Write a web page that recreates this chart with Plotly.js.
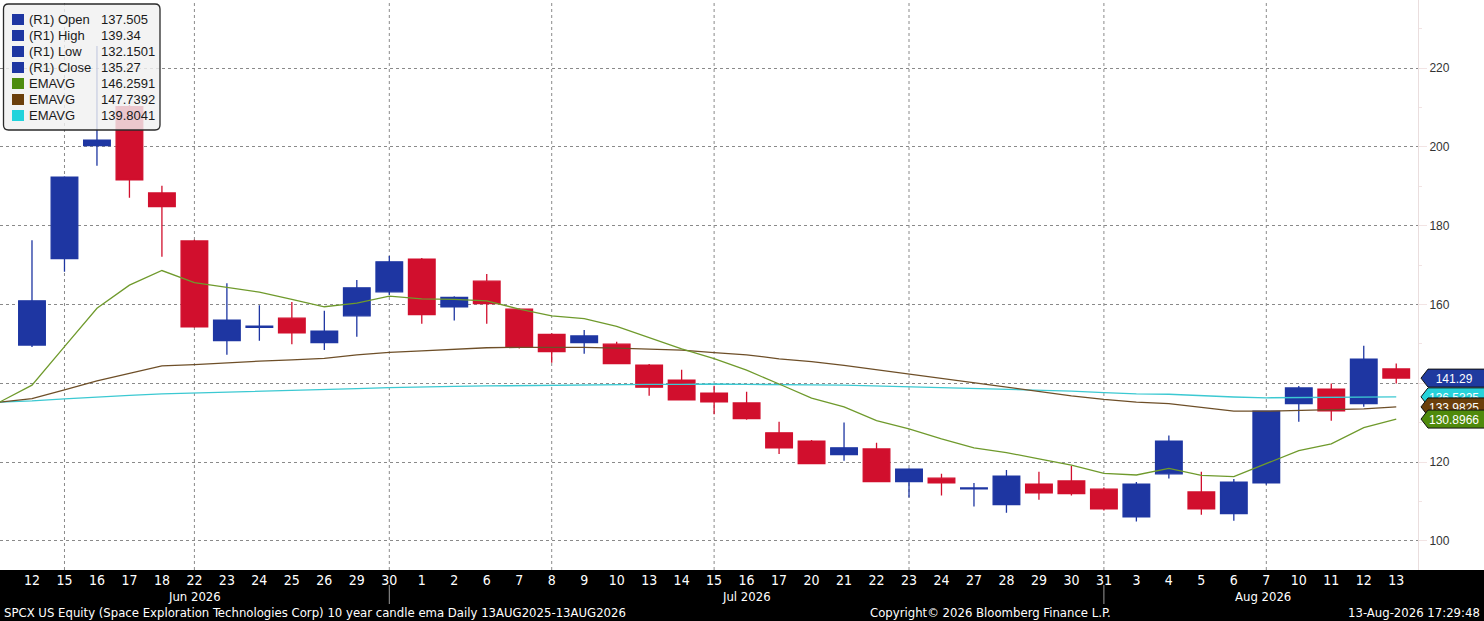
<!DOCTYPE html>
<html><head><meta charset="utf-8">
<script src="https://cdn.plot.ly/plotly-3.0.1.min.js"></script>
<style>html,body{margin:0;padding:0;background:#fff;overflow:hidden}#chart{width:1484px;height:621px}</style>
</head><body><div id="chart"></div>
<script>
// ---- data ----
const days = ['12','15','16','17','18','22','23','24','25','26','29','30',
  '1','2','6','7','8','9','10','13','14','15','16','17','20','21','22','23','24','27','28','29','30','31',
  '3','4','5','6','7','10','11','12','13'];
const openP  = [149.7,171.6,200.3,210.2,188.3,176.1,150.8,154.2,156.5,150.3,157.1,163.2,
  171.5,159.4,165.9,158.8,152.4,150.3,149.9,144.6,140.8,137.505,135.0,127.4,125.3,121.9,123.3,115.0,115.9,113.2,109.2,114.4,115.2,113.1,
  106.1,117.0,112.4,106.9,114.7,134.8,138.5,134.8,143.6];
const highP  = [176.3,192.5,225.6,210.6,190.1,176.4,165.4,159.8,160.6,158.4,166.2,172.3,
  171.8,162.1,167.7,159.0,152.7,153.5,150.5,144.9,143.4,139.34,137.8,130.2,125.6,130.0,124.9,118.4,117.0,114.7,118.0,117.5,119.0,113.5,
  114.9,126.7,117.5,115.7,133.1,139.3,139.9,149.5,145.0];
const lowP   = [149.2,168.3,195.2,187.1,172.1,154.1,147.2,150.8,149.9,148.4,151.8,162.4,
  155.1,155.9,155.1,148.8,145.2,147.5,144.9,136.8,135.6,132.1501,130.7,122.0,119.5,120.3,114.9,111.0,111.5,108.7,107.1,110.4,111.5,107.7,
  104.9,115.8,106.6,105.1,114.2,130.2,130.5,134.0,139.9];
const closeP = [160.9,192.3,201.7,191.6,184.8,154.3,156.0,154.5,152.8,153.2,164.2,170.8,
  157.4,161.8,160.2,149.1,148.0,152.0,145.0,139.0,135.8,135.27,131.0,123.6,119.6,123.6,115.0,118.2,114.7,113.4,116.4,112.2,112.0,108.1,
  114.4,125.3,108.1,114.9,132.9,138.8,133.0,146.1,141.29];
// EMA values start one session before the first candle
const emaFast = [135.2,139.5,149.3,159.0,164.9,168.6,165.5,164.3,163.1,161.3,159.4,160.3,162.1,
  161.4,161.3,160.9,158.8,157.1,156.4,154.4,151.5,148.7,146.2591,143.3,139.8,136.2,134.0,130.5,128.4,125.9,123.6,122.4,120.8,119.2,117.1,
  116.7,118.4,116.6,116.3,119.7,122.9,124.6,128.7,130.8966];
const emaMid = [135.2,136.1,138.3,140.6,142.5,144.4,144.7,145.2,145.6,145.9,146.3,147.2,147.8,
  148.2,148.6,149.0,149.1,149.1,149.1,148.9,148.7,148.4,147.7392,147.2,146.2,145.5,144.5,143.4,142.3,141.2,140.1,139.1,138.0,136.8,135.9,
  135.2,134.8,133.8,132.9,132.9,133.1,133.2,133.5,133.9825];
const emaSlow = [135.2,135.5,136.0,136.5,136.9,137.3,137.5,137.7,137.9,138.1,138.3,138.6,138.9,
  139.1,139.2,139.3,139.4,139.5,139.6,139.6,139.7,139.7,139.8041,139.7,139.7,139.6,139.5,139.3,139.1,138.9,138.7,138.5,138.3,138.0,137.6,
  137.3,137.2,136.8,136.5,136.3,136.4,136.4,136.5,136.5325];
const legendLabels = ['(R1) Open','(R1) High','(R1) Low','(R1) Close','EMAVG','EMAVG','EMAVG'];
const legendValues = ['137.505','139.34','132.1501','135.27','146.2591','147.7392','139.8041'];
const monthLabels = ['Jun 2026','Jul 2026','Aug 2026'];
const yTicks = [100,120,140,160,180,200,220];

// ---- styling / layout helpers ----
const W = 1418, H = 570;
const px = x => x / W;
const py = y => 1 - y / H;
const BLUE = '#1e36a2', RED = '#d10f2d';
const cGreen = '#6f9a2c', cBrown = '#6e4f28', cCyan = '#3cc9d2';
const swatch = [BLUE, BLUE, BLUE, BLUE, '#4d8c0e', '#6b3f0b', '#22d3dc'];
const NARROW = '"Liberation Sans Narrow", "Arial Narrow", "DejaVu Sans Condensed", sans-serif';
const SANS = '"Liberation Sans", Arial, sans-serif';

const idx = days.map((d, i) => i);
const emaX = emaFast.map((v, i) => i - 1);

const traces = [
  {type: 'candlestick', x: idx, open: openP, high: highP, low: lowP, close: closeP,
   increasing: {line: {color: BLUE, width: 1.3}, fillcolor: BLUE},
   decreasing: {line: {color: RED, width: 1.3}, fillcolor: RED},
   whiskerwidth: 0, hoverinfo: 'skip', showlegend: false},
  {type: 'scatter', mode: 'lines', x: emaX, y: emaSlow, line: {color: cCyan, width: 1.3}, hoverinfo: 'skip', showlegend: false},
  {type: 'scatter', mode: 'lines', x: emaX, y: emaMid, line: {color: cBrown, width: 1.3}, hoverinfo: 'skip', showlegend: false},
  {type: 'scatter', mode: 'lines', x: emaX, y: emaFast, line: {color: cGreen, width: 1.3}, hoverinfo: 'skip', showlegend: false}
];

const shapes = [];
const annotations = [];

// black band at bottom
shapes.push({type: 'rect', xref: 'paper', yref: 'paper', x0: -0.01, x1: 1484 / W + 0.01, y0: py(621), y1: 0,
  fillcolor: '#000', line: {width: 0}, layer: 'below'});

// vertical dotted gridlines at session markers
const gridIdx = [1, 5, 11, 16, 21, 27, 33, 38];
gridIdx.forEach(i => shapes.push({type: 'line', xref: 'x', yref: 'paper', x0: i, x1: i, y0: 0, y1: 1,
  line: {color: '#8a8a8a', width: 1, dash: 'dot'}, layer: 'below'}));

// month separators
[11, 33].forEach(i => shapes.push({type: 'line', xref: 'x', yref: 'paper', x0: i, x1: i, y0: py(585), y1: py(604),
  line: {color: '#9a9a9a', width: 1}}));

// month labels
[5, 22, 37.9].forEach((p, k) => annotations.push({xref: 'x', yref: 'paper', x: p, y: py(596), xanchor: 'center', yanchor: 'middle',
  text: monthLabels[k], showarrow: false, font: {family: NARROW, size: 13, color: '#fff'}}));

// footer texts
const FOOT = {family: NARROW, size: 13, color: '#fff'};
annotations.push({xref: 'paper', yref: 'paper', x: px(2), y: py(612), xanchor: 'left', yanchor: 'middle', showarrow: false,
  text: 'SPCX US Equity (Space Exploration Technologies Corp) 10 year candle ema Daily 13AUG2025-13AUG2026', font: FOOT});
annotations.push({xref: 'paper', yref: 'paper', x: px(868), y: py(612), xanchor: 'left', yanchor: 'middle', showarrow: false,
  text: 'Copyright© 2026 Bloomberg Finance L.P.', font: FOOT});
annotations.push({xref: 'paper', yref: 'paper', x: px(1482), y: py(612), xanchor: 'right', yanchor: 'middle', showarrow: false,
  text: '13-Aug-2026 17:29:48', font: FOOT});

// legend box (rounded)
(function () {
  const L = 3.5, T = 4, R = 160, B = 130, r = 5;
  const p = [
    `M ${px(L + r)} ${py(T)}`, `L ${px(R - r)} ${py(T)}`, `Q ${px(R)} ${py(T)} ${px(R)} ${py(T + r)}`,
    `L ${px(R)} ${py(B - r)}`, `Q ${px(R)} ${py(B)} ${px(R - r)} ${py(B)}`,
    `L ${px(L + r)} ${py(B)}`, `Q ${px(L)} ${py(B)} ${px(L)} ${py(B - r)}`,
    `L ${px(L)} ${py(T + r)}`, `Q ${px(L)} ${py(T)} ${px(L + r)} ${py(T)}`, 'Z'].join(' ');
  shapes.push({type: 'path', xref: 'paper', yref: 'paper', path: p, fillcolor: 'rgba(240,240,240,0.82)',
    line: {color: '#2a2a2a', width: 1.3}, layer: 'above'});
})();
legendLabels.forEach((lab, k) => {
  const cy = 19.5 + 16 * k;
  shapes.push({type: 'rect', xref: 'paper', yref: 'paper', x0: px(12), x1: px(24), y0: py(cy - 5.5), y1: py(cy + 5.5),
    fillcolor: swatch[k], line: {width: 0}, layer: 'above'});
  annotations.push({xref: 'paper', yref: 'paper', x: px(27), y: py(cy), xanchor: 'left', yanchor: 'middle', showarrow: false,
    text: lab, font: {family: SANS, size: 13, color: '#1a1a1a'}});
  annotations.push({xref: 'paper', yref: 'paper', x: px(99), y: py(cy), xanchor: 'left', yanchor: 'middle', showarrow: false,
    text: legendValues[k], font: {family: SANS, size: 13, color: '#1a1a1a'}});
});

// right-hand last-value tags (label drawn with the shape so later tags cover earlier ones)
const yMin = 92.59, yMax = 237.26;
const unitPerPx = (yMax - yMin) / H;
function tag(v, fill, txtColor, label) {
  const h = 9 * unitPerPx;
  const p = `M ${px(1421)} ${v} L ${px(1428)} ${v + h} L ${px(1487)} ${v + h} L ${px(1487)} ${v - h} L ${px(1428)} ${v - h} Z`;
  shapes.push({type: 'path', xref: 'paper', yref: 'y', path: p, fillcolor: fill, line: {color: '#111', width: 1}, layer: 'above',
    label: {text: label, textposition: 'middle center', font: {family: SANS, size: 12, color: txtColor}, padding: 0}});
}
const last = a => a[a.length - 1];
tag(last(closeP), '#1f3a9f', '#fff', String(last(closeP)));
tag(last(emaSlow), '#27d2da', '#fff', String(last(emaSlow)));
tag(last(emaMid), '#6b3f0b', '#fff', String(last(emaMid)));
tag(last(emaFast), '#4f8a0c', '#fff', String(last(emaFast)));

const layout = {
  width: 1484, height: 621, autosize: false,
  margin: {l: 0, r: 1484 - W, t: 0, b: 621 - H, pad: 0},
  paper_bgcolor: '#fff', plot_bgcolor: '#fff',
  showlegend: false,
  boxgap: 0.18, boxgroupgap: 0,
  xaxis: {range: [-0.985, 42.67], tickmode: 'array', tickvals: idx, ticktext: days, tickangle: 0,
    showgrid: false, zeroline: false, showline: false, ticks: '', rangeslider: {visible: false},
    tickfont: {family: NARROW, size: 14, color: '#fff'}, fixedrange: true},
  yaxis: {range: [yMin, yMax], side: 'right', tickmode: 'array', tickvals: yTicks, ticktext: yTicks.map(String),
    showgrid: true, gridcolor: '#8a8a8a', griddash: 'dot', gridwidth: 1, zeroline: false,
    showline: true, linecolor: '#eadede', linewidth: 1, ticks: 'outside', ticklen: 8, tickcolor: '#f2e4e4',
    minor: {dtick: 10, ticks: 'outside', ticklen: 3, tickcolor: '#f2e4e4', showgrid: false},
    tickfont: {family: SANS, size: 12, color: '#333'}, fixedrange: true},
  shapes: shapes, annotations: annotations
};

Plotly.newPlot('chart', traces, layout, {staticPlot: true, displayModeBar: false});
</script></body></html>
